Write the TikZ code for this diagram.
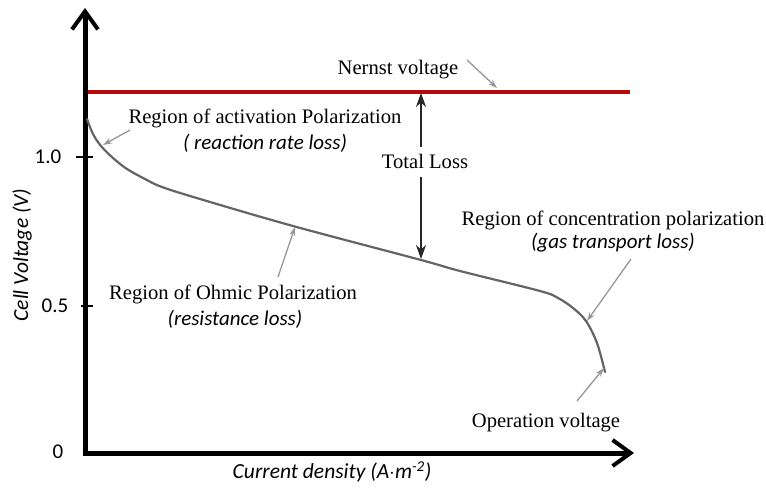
\documentclass[tikz,border=0pt]{standalone}
\usepackage{fontspec}
\setmainfont{Liberation Serif}
\newfontfamily\carl{Carlito}
\usetikzlibrary{arrows.meta}
\definecolor{nernstred}{RGB}{185,10,10}
\definecolor{curvegray}{RGB}{100,100,100}
\definecolor{pointgray}{RGB}{150,150,150}
\begin{document}
\begin{tikzpicture}[x=1pt,y=-1pt,
  axisline/.style={line width=5pt,-{Straight Barb[length=18pt,width=26pt,line width=4pt]}},
  serif/.style={font=\fontsize{20.6}{23}\selectfont,inner sep=0pt},
  ital/.style={font=\carl\itshape\fontsize{21}{23}\selectfont,inner sep=0pt},
  ticklab/.style={font=\carl\fontsize{21}{23}\selectfont,inner sep=0pt},
  pointer/.style={draw=pointgray,line width=1.3pt,-{Stealth[length=9pt,width=6pt]}},
  losstip/.style={line width=2pt,-{Stealth[length=14pt,width=10pt]}}]
\useasboundingbox (0,0) rectangle (766,492);
% axes
\coordinate (ytop) at (85,8);
\coordinate (xend) at (634,453);
\draw[axisline] (85,455.5) -- (ytop);
\draw[axisline] (82.5,453) -- (xend);
% ticks
\draw[line width=2pt] (76,157) -- (93,157);
\draw[line width=2pt] (81,306) -- (93,306);
\node[ticklab] (t10) at (48,157) {1.0};
\node[ticklab] (t05) at (55,306) {0.5};
\node[ticklab] (t0) at (58,452) {0};
% axis labels
\node[ital,font=\carl\itshape\fontsize{21.5}{23}\selectfont,rotate=90] (ylab) at (22,255) {Cell Voltage (V)};
\node[ital,font=\carl\itshape\fontsize{21.5}{23}\selectfont] (xlab) at (332,472) {Current density (A$\cdot$m\textsuperscript{-2})};
% Nernst line
\coordinate (nl) at (88,92);
\coordinate (nr) at (630,92);
\draw[nernstred,line width=3.2pt] (nl) -- (nr);
% curve
\draw[curvegray,line width=2.2pt,line cap=round] plot[smooth,tension=0.55] coordinates {
  (87,119) (93,134) (101,146) (113,158) (127,169) (145,179) (162,187) (200,199)
  (293,226) (421,260) (460,271) (540,291) (558,298) (573,308) (586,321) (597,343) (605,372)};
% Total loss arrows
\node[serif] (tl) at (425,161) {Total Loss};
\coordinate (tltop) at (421,93);
\coordinate (tlbot) at (421,259);
\draw[losstip,black!85] (421,147) -- (tltop);
\draw[losstip,black!85] (421,177) -- (tlbot);
% labels
\node[serif] (nern) at (398,70) {Nernst voltage};
\coordinate (nernp) at (497,88);
\draw[pointer] (467,60) -- (nernp);

\node[serif] (act) at (265,118) {Region of activation Polarization};
\node[ital] (acti) at (265,143) {( reaction rate loss)};
\coordinate (actp) at (103,145);
\draw[pointer] (130,130) -- (actp);

\node[serif] (ohm) at (233,294) {Region of Ohmic Polarization};
\node[ital] (ohmi) at (235,319) {(resistance loss)};
\coordinate (ohmp) at (295,227);
\draw[pointer] (278,277) -- (ohmp);

\node[serif] (conc) at (613,220) {Region of concentration polarization};
\node[ital] (conci) at (613,243) {(gas transport loss)};
\coordinate (concp) at (587,321);
\draw[pointer] (631,259) -- (concp);

\node[serif] (op) at (546,423) {Operation voltage};
\coordinate (opp) at (604,368);
\draw[pointer] (577,401) -- (opp);
\end{tikzpicture}
\end{document}
